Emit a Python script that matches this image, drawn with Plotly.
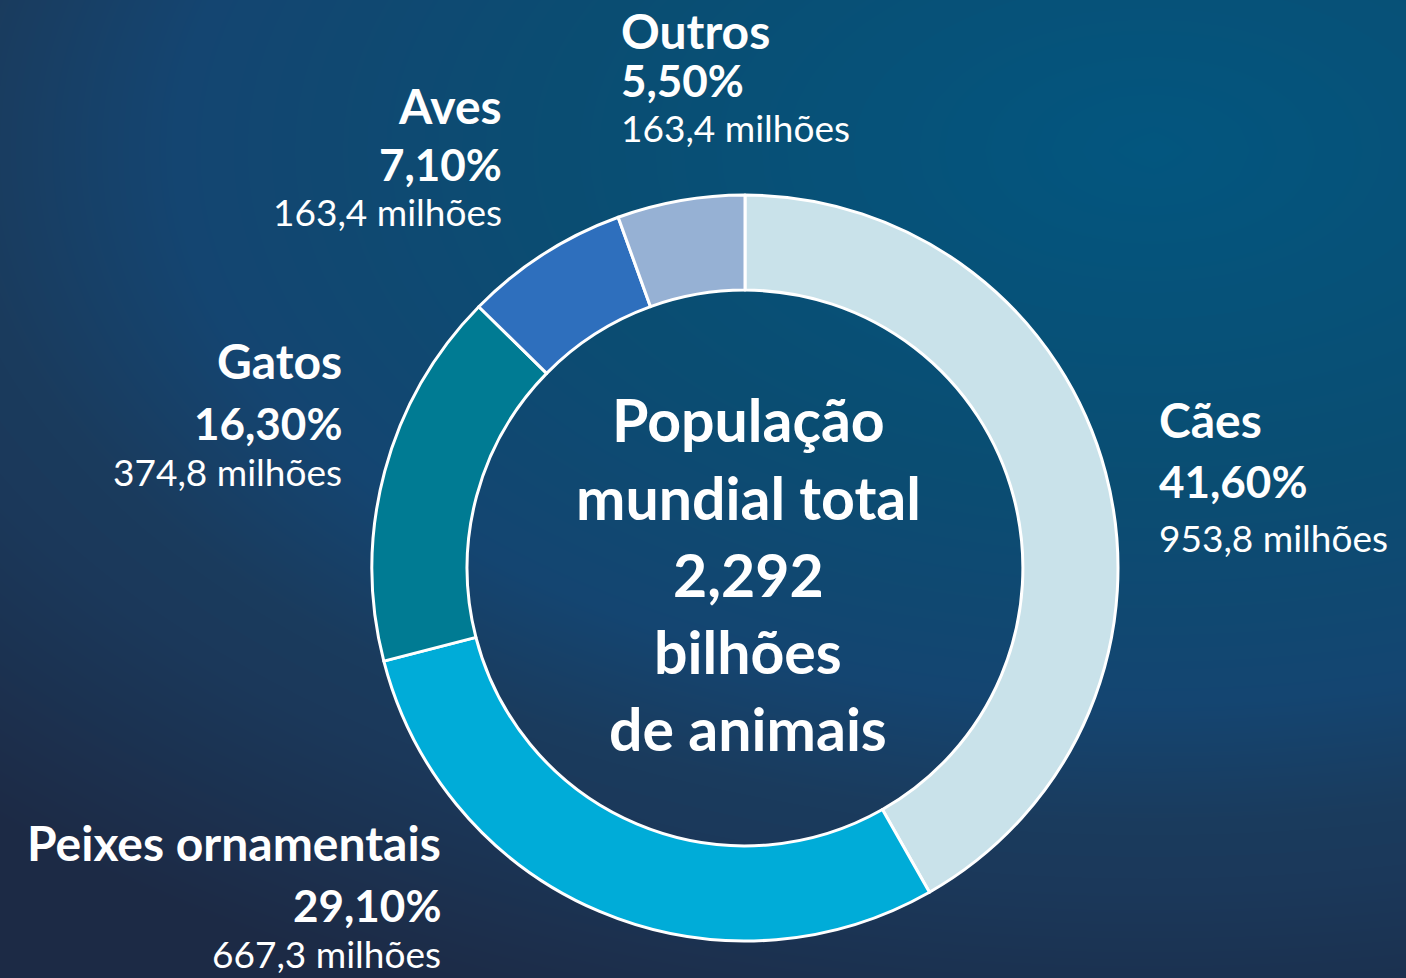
import numpy as np
import plotly.graph_objects as go

# ---- data ----
categories = ["Cães", "Peixes ornamentais", "Gatos", "Aves", "Outros"]
percentages = [41.6, 29.1, 16.3, 7.1, 5.5]
millions = [953.8, 667.3, 374.8, 163.4, 163.4]
center_lines = ["População", "mundial total", "2,292", "bilhões", "de animais"]

# ---- style ----
slice_colors = ["#c9e2ea", "#00acd8", "#007b93", "#2e6fbd", "#96b1d4"]
W, H = 1406, 978
FONT = "Lato"

# label anchor positions (pixels): x, y of first line, anchor, line gaps
label_pos = {
    "Cães": (1157, 420, "left", [61, 56]),
    "Peixes ornamentais": (443, 842, "right", [63, 48]),
    "Gatos": (344, 360, "right", [63, 48]),
    "Aves": (504, 105, "right", [59, 48]),
    "Outros": (619, 30, "left", [50, 48]),
}

fig = go.Figure()

# background gradient
gx = np.linspace(0, W, 40)
gy = np.linspace(0, H, 40)
GX, GY = np.meshgrid(gx, gy)
T = np.sqrt(((GX - 1150) / 1500) ** 2 + ((GY - 150) / 850) ** 2)
fig.add_trace(go.Heatmap(
    x=gx / W, y=1 - gy / H, z=T, zmin=0, zmax=1.1, zsmooth="best",
    colorscale=[[0, "#03567f"], [0.36, "#0a4d72"], [0.59, "#144571"],
                [0.72, "#1a3b5d"], [0.79, "#1b385a"], [1.0, "#1c2a45"]],
    showscale=False, hoverinfo="skip"))

cx, cy, R = 745, 568, 373
fig.add_trace(go.Pie(
    labels=categories, values=percentages, sort=False, direction="clockwise",
    rotation=0, hole=0.745, textinfo="none", showlegend=False,
    marker=dict(colors=slice_colors, line=dict(color="white", width=3)),
    domain=dict(x=[(cx - R) / W, (cx + R) / W], y=[1 - (cy + R) / H, 1 - (cy - R) / H]),
))

annotations = []
for cat, p, m in zip(categories, percentages, millions):
    x, y, anc, gaps = label_pos[cat]
    lines = [
        (f"<b>{cat}</b>", 48, 0),
        (f"<b>{p:.2f}%</b>".replace(".", ","), 44, gaps[0]),
        (f"{m:.1f} milhões".replace(".", ","), 37, gaps[0] + gaps[1]),
    ]
    for txt, size, dy in lines:
        annotations.append(dict(
            x=x / W, y=1 - (y + dy) / H, xref="paper", yref="paper",
            xanchor=anc, yanchor="middle", text=txt, showarrow=False,
            font=dict(family=FONT, size=size, color="white")))

for i, line in enumerate(center_lines):
    annotations.append(dict(
        x=748 / W, y=1 - (420 + 77 * i) / H, xref="paper", yref="paper",
        xanchor="center", yanchor="middle", text=f"<b>{line}</b>", showarrow=False,
        font=dict(family=FONT, size=59, color="white")))

fig.update_layout(
    width=W, height=H, margin=dict(l=0, r=0, t=0, b=0),
    paper_bgcolor="#1b2b48", plot_bgcolor="#1b2b48",
    xaxis=dict(visible=False, range=[0, 1], domain=[0, 1], fixedrange=True),
    yaxis=dict(visible=False, range=[0, 1], domain=[0, 1], fixedrange=True),
    annotations=annotations,
)
fig.write_html(
    "out.html",
    config={"displayModeBar": False},
    post_script="document.body.style.margin='0';document.body.style.overflow='hidden';",
)
